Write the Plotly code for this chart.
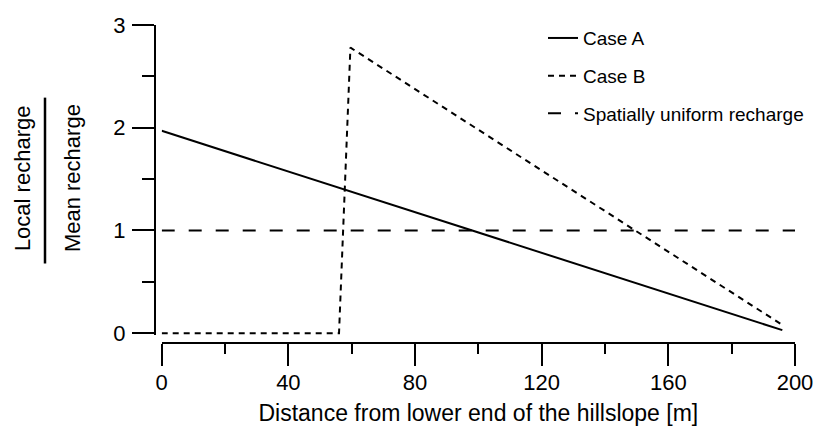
import plotly.graph_objects as go

# ---- data ----
case_a_x = [0, 196]
case_a_y = [1.97, 0.03]

case_b_x = [0, 56, 59.6, 196]
case_b_y = [0, 0, 2.78, 0.08]

uniform_x = [0, 200]
uniform_y = [1, 1]

x_ticks = [0, 40, 80, 120, 160, 200]
y_ticks = [0, 1, 2, 3]

FONT = "Liberation Sans, Arial, sans-serif"

fig = go.Figure()
fig.add_trace(go.Scatter(x=case_a_x, y=case_a_y, mode="lines", name="Case A",
                         legendgroup="a",
                         line=dict(color="black", width=2)))
fig.add_trace(go.Scatter(x=case_b_x, y=case_b_y, mode="lines", name="Case B",
                         legendgroup="b",
                         line=dict(color="black", width=2, dash="6px,5px")))
fig.add_trace(go.Scatter(x=uniform_x, y=uniform_y, mode="lines",
                         name="Spatially uniform recharge", legendgroup="c",
                         line=dict(color="black", width=2, dash="13px,14px")))

# page body has an 8px margin, so the figure is shifted by 8px
OFF = 8
W, H = 821 - OFF, 426 - OFF
ML, MR, MT, MB = 155 - OFF, 26, 19 - OFF, 83
pw = W - ML - MR
ph = H - MT - MB


def px(xp):
    return (xp - OFF - ML) / pw


def py(yp):
    return (H - MB - (yp - OFF)) / ph


fig.update_layout(
    width=W, height=H,
    margin=dict(l=ML, r=MR, t=MT, b=MB, pad=0),
    paper_bgcolor="white", plot_bgcolor="white",
    font=dict(family=FONT, color="black", size=22),
    showlegend=True,
    legend=dict(x=px(543), y=py(13), xanchor="left", yanchor="top",
                font=dict(size=19, family=FONT), bgcolor="rgba(0,0,0,0)",
                borderwidth=0, tracegroupgap=10),
    xaxis=dict(
        domain=[px(161.7), 1], range=[0, 200], anchor="free", position=0,
        showline=True, linecolor="black", linewidth=2, mirror=False,
        ticks="outside", ticklen=22, tickwidth=2, tickcolor="black",
        tickmode="array", tickvals=x_ticks, ticktext=[str(v) for v in x_ticks],
        minor=dict(dtick=20, tick0=0, ticks="outside", ticklen=10, tickwidth=2,
                   tickcolor="black", showgrid=False),
        showgrid=False, zeroline=False, automargin=False,
        tickfont=dict(size=22, family=FONT), ticklabelstandoff=-2,
        title=dict(text="Distance from lower end of the hillslope [m]",
                   font=dict(size=23, family=FONT), standoff=12),
    ),
    yaxis=dict(
        domain=[py(335.1), 1], range=[-0.02, 3], anchor="free", position=0,
        showline=True, linecolor="black", linewidth=2,
        ticks="outside", ticklen=22, tickwidth=2, tickcolor="black",
        tickmode="array", tickvals=y_ticks, ticktext=[str(v) for v in y_ticks],
        minor=dict(dtick=0.5, tick0=0, ticks="outside", ticklen=12, tickwidth=2,
                   tickcolor="black", showgrid=False),
        showgrid=False, zeroline=False, automargin=False,
        tickfont=dict(size=22, family=FONT), ticklabelstandoff=2,
    ),
    annotations=[
        dict(text="Local recharge", x=px(22), y=py(175), xref="paper", yref="paper",
             textangle=-90, showarrow=False, font=dict(size=22, family=FONT),
             xanchor="center", yanchor="middle"),
        dict(text="Mean recharge", x=px(72), y=py(175), xref="paper", yref="paper",
             textangle=-90, showarrow=False, font=dict(size=22, family=FONT),
             xanchor="center", yanchor="middle"),
    ],
    shapes=[
        dict(type="line", xref="paper", yref="paper", x0=px(45), x1=px(45),
             y0=py(262), y1=py(93), line=dict(color="black", width=2.5)),
    ],
)

fig.write_html("out.html")
